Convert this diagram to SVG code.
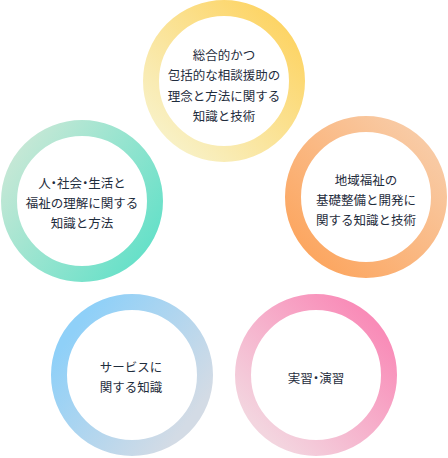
<svg xmlns="http://www.w3.org/2000/svg" width="448" height="458" viewBox="0 0 448 458">
<defs>
<linearGradient id="gY" x1="0.1" y1="0.9" x2="0.9" y2="0.1"><stop offset="0" stop-color="#f8f1c6"/><stop offset="1" stop-color="#fdd465"/></linearGradient>
<linearGradient id="gG" x1="0" y1="0.15" x2="1" y2="0.85"><stop offset="0" stop-color="#c9e8d6"/><stop offset="1" stop-color="#62e0c8"/></linearGradient>
<linearGradient id="gO" x1="0.9" y1="0.1" x2="0.1" y2="0.9"><stop offset="0" stop-color="#f8cba6"/><stop offset="1" stop-color="#fca660"/></linearGradient>
<linearGradient id="gB" x1="0.1" y1="0.2" x2="0.9" y2="0.8"><stop offset="0" stop-color="#8fd0f8"/><stop offset="1" stop-color="#d3dbe5"/></linearGradient>
<linearGradient id="gP" x1="0.9" y1="0.15" x2="0.15" y2="0.9"><stop offset="0" stop-color="#f98cb8"/><stop offset="1" stop-color="#f3d5df"/></linearGradient>
</defs>
<style>
.ring{fill:#fff;stroke-width:16}
.t{font-family:"Noto Sans CJK JP","Noto Sans",sans-serif;font-size:12.5px;fill:#1f2d3d;text-anchor:middle}
.d{font-feature-settings:"palt"}
</style>
<g id="connectors"/>
<g id="node-top">
<circle class="ring" cx="224" cy="81" r="73" stroke="url(#gY)"/>
<text class="t" x="224" y="60">総合的かつ</text>
<text class="t" x="224" y="80">包括的な相談援助の</text>
<text class="t" x="224" y="101">理念と方法に関する</text>
<text class="t" x="224" y="121">知識と技術</text>
</g>
<g id="node-left">
<circle class="ring" cx="82" cy="201" r="73" stroke="url(#gG)"/>
<text class="t" x="82" y="188">人<tspan class="d">・</tspan>社会<tspan class="d">・</tspan>生活と</text>
<text class="t" x="82" y="208">福祉の理解に関する</text>
<text class="t" x="82" y="228">知識と方法</text>
</g>
<g id="node-right">
<circle class="ring" cx="366" cy="197" r="73" stroke="url(#gO)"/>
<text class="t" x="366" y="185">地域福祉の</text>
<text class="t" x="366" y="205">基礎整備と開発に</text>
<text class="t" x="366" y="225">関する知識と技術</text>
</g>
<g id="node-bottom-left">
<circle class="ring" cx="132" cy="375" r="73" stroke="url(#gB)"/>
<text class="t" x="131" y="372">サービスに</text>
<text class="t" x="131" y="392">関する知識</text>
</g>
<g id="node-bottom-right">
<circle class="ring" cx="316" cy="375" r="73" stroke="url(#gP)"/>
<text class="t" x="316" y="383">実習<tspan class="d">・</tspan>演習</text>
</g>
</svg>
